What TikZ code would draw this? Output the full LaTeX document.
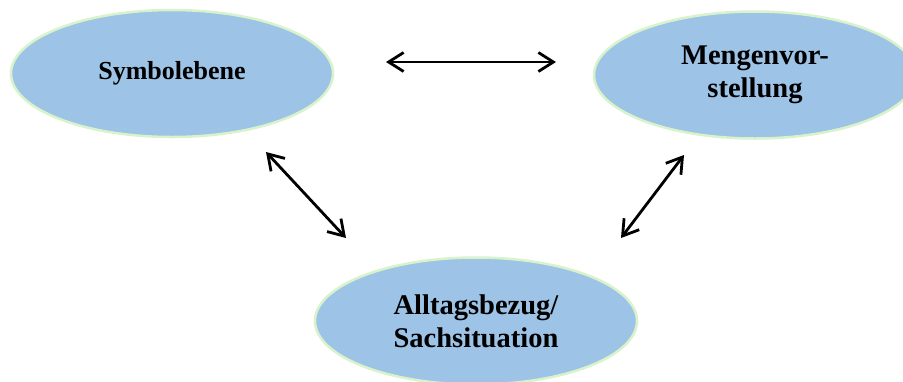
\documentclass[tikz,border=0pt]{standalone}
\usepackage{fontspec}
\setmainfont{Liberation Serif}
\usetikzlibrary{shapes.geometric,arrows.meta}
\definecolor{ellfill}{HTML}{9DC3E6}
\definecolor{ellline}{HTML}{D8F3CC}
\tikzset{
  blob/.style={ellipse, fill=ellfill, draw=ellline, line width=2.5pt,
    minimum width=322pt, minimum height=127pt, inner sep=0pt, align=center,
    font=\fontsize{28.5}{33}\selectfont\bfseries},
  dblarrow/.style={line width=2.8pt, {Straight Barb[length=15pt,width=19pt,line width=2.8pt]}-{Straight Barb[length=15pt,width=19pt,line width=2.8pt]}}
}
\begin{document}
\begin{tikzpicture}[x=1pt,y=-1pt]
\useasboundingbox (0,0) rectangle (903,381);
\node[blob, font=\fontsize{26}{32}\selectfont\bfseries] (sym) at (172,73.5) {Symbolebene};
\node[blob] (men) at (755,75) {Mengenvor-\\stellung};
\node[blob] (all) at (476,321) {Alltagsbezug/\\Sachsituation};
\coordinate (t1) at (386,62);
\coordinate (t2) at (556,62);
\coordinate (l1) at (266,152);
\coordinate (l2) at (346,238);
\coordinate (r1) at (621,238);
\coordinate (r2) at (684,155);
\draw[dblarrow] (t1) -- (t2);
\draw[dblarrow] (l1) -- (l2);
\draw[dblarrow] (r1) -- (r2);
\end{tikzpicture}
\end{document}
